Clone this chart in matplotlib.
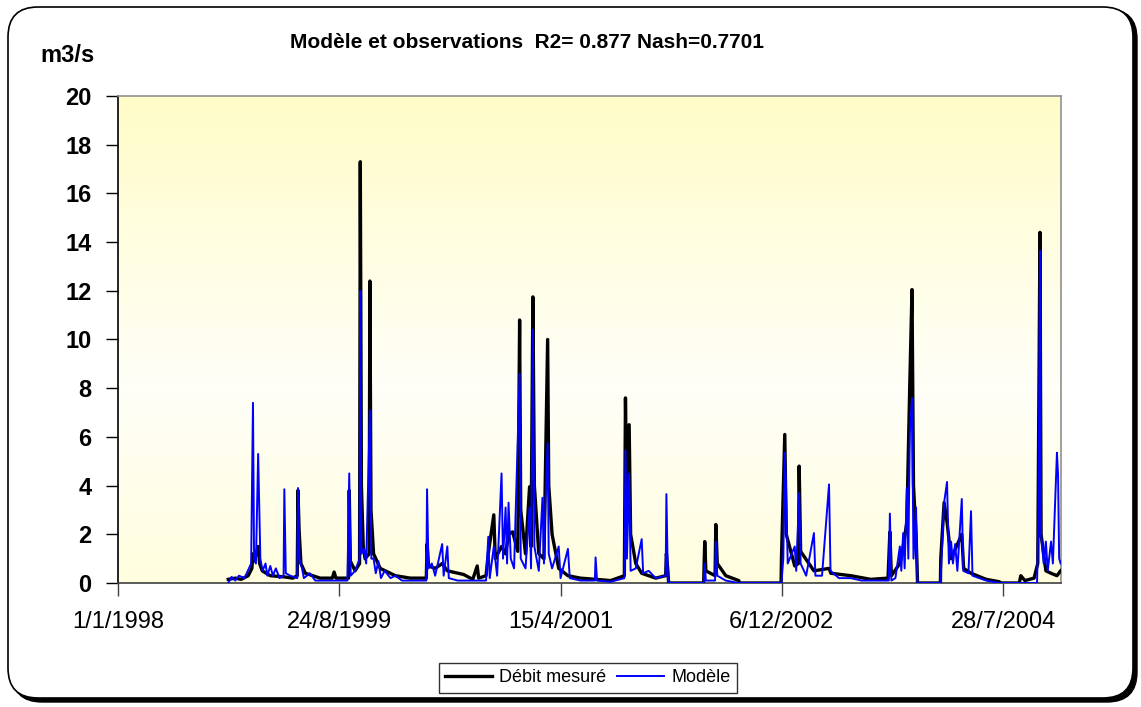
import numpy as np
import pandas as pd
import matplotlib.pyplot as plt
import matplotlib.dates as mdates
from matplotlib.patches import FancyBboxPatch
from matplotlib.transforms import IdentityTransform
from matplotlib.ticker import FuncFormatter, MultipleLocator

# ---------------- DATA ----------------
obs_dates = [
    "1998-10-27", "1998-11-15", "1998-12-01", "1998-12-20", "1998-12-30", "1999-01-02",
    "1999-01-05", "1999-01-16", "1999-01-20", "1999-01-27", "1999-02-18", "1999-03-28",
    "1999-04-20", "1999-05-02", "1999-05-04", "1999-05-07", "1999-05-12", "1999-05-24",
    "1999-07-03", "1999-08-05", "1999-08-10", "1999-08-15", "1999-09-18", "1999-09-20",
    "1999-09-23", "1999-10-06", "1999-10-18", "1999-10-20", "1999-10-23", "1999-10-28",
    "1999-11-02", "1999-11-13", "1999-11-15", "1999-11-18", "1999-11-25", "1999-12-13",
    "2000-01-23", "2000-03-04", "2000-04-16", "2000-04-18", "2000-04-22", "2000-05-10",
    "2000-05-29", "2000-06-12", "2000-07-26", "2000-08-20", "2000-09-01", "2000-09-05",
    "2000-09-25", "2000-10-01", "2000-10-16", "2000-10-20", "2000-11-06", "2000-11-17",
    "2000-11-25", "2000-12-06", "2000-12-20", "2000-12-25", "2000-12-28", "2001-01-10",
    "2001-01-21", "2001-01-25", "2001-01-30", "2001-02-03", "2001-02-15", "2001-03-01",
    "2001-03-11", "2001-03-14", "2001-03-23", "2001-04-10", "2001-05-05", "2001-06-08",
    "2001-07-19", "2001-08-29", "2001-10-05", "2001-10-08", "2001-10-12", "2001-10-18",
    "2001-10-22", "2001-11-05", "2001-11-21", "2001-12-29", "2002-01-25", "2002-01-27",
    "2002-01-31", "2002-02-02", "2002-05-08", "2002-05-11", "2002-05-14", "2002-06-08",
    "2002-06-10", "2002-06-14", "2002-07-07", "2002-08-11", "2002-08-14", "2002-12-04",
    "2002-12-05", "2002-12-14", "2002-12-18", "2003-01-10", "2003-01-20", "2003-01-22",
    "2003-01-26", "2003-03-03", "2003-04-13", "2003-04-18", "2003-06-11", "2003-08-04",
    "2003-09-20", "2003-09-25", "2003-09-29", "2003-10-22", "2003-10-31", "2003-11-10",
    "2003-11-18", "2003-11-24", "2003-11-28", "2003-12-05", "2003-12-09", "2004-02-09",
    "2004-02-10", "2004-02-19", "2004-02-27", "2004-03-09", "2004-04-07", "2004-04-12",
    "2004-05-02", "2004-06-12", "2004-07-18", "2004-07-20", "2004-09-10", "2004-09-14",
    "2004-09-25", "2004-10-20", "2004-10-30", "2004-11-05", "2004-11-08", "2004-11-21",
    "2004-12-05", "2004-12-21", "2004-12-31",
]
obs_values = [
    0.15, 0.2, 0.15, 0.3, 0.6, 1.2,
    0.9, 1.5, 0.8, 0.5, 0.3, 0.25,
    0.2, 0.3, 3.8, 2.2, 0.8, 0.4,
    0.2, 0.2, 0.45, 0.2, 0.2, 3.8,
    0.9, 0.5, 0.8, 17.3, 4.0, 1.5,
    1.0, 1.2, 12.4, 3.0, 1.2, 0.6,
    0.3, 0.2, 0.2, 1.6, 0.7, 0.6,
    0.8, 0.5, 0.35, 0.15, 0.7, 0.2,
    0.3, 1.2, 2.8, 1.0, 1.5, 1.2,
    2.0, 2.1, 1.3, 10.8, 3.0, 1.2,
    3.95, 1.5, 11.75, 4.0, 1.2, 1.0,
    10.0, 4.0, 2.0, 0.6, 0.3, 0.2,
    0.15, 0.1, 0.3, 7.6, 3.0, 6.5,
    2.0, 0.8, 0.4, 0.2, 0.3, 1.2,
    0.5, 0.0, 0.0, 1.7, 0.5, 0.3,
    2.4, 0.8, 0.3, 0.1, 0.0, 0.0,
    1.0, 6.1, 2.0, 0.7, 0.8, 4.8,
    1.3, 0.5, 0.6, 0.4, 0.3, 0.15,
    0.2, 2.1, 0.3, 0.8, 1.5, 2.5,
    8.2, 12.05, 4.0, 2.0, 0.0, 0.0,
    1.0, 3.3, 2.5, 1.0, 2.0, 0.6,
    0.4, 0.15, 0.05, 0.0, 0.0, 0.3,
    0.1, 0.2, 0.8, 14.4, 2.0, 0.5,
    0.4, 0.3, 0.5,
]

mod_dates = [
    "1998-10-27", "1998-11-05", "1998-11-15", "1998-11-25", "1998-12-10", "1998-12-28",
    "1999-01-02", "1999-01-05", "1999-01-10", "1999-01-16", "1999-01-22", "1999-01-28",
    "1999-02-05", "1999-02-10", "1999-02-18", "1999-02-25", "1999-03-05", "1999-03-15",
    "1999-03-26", "1999-03-28", "1999-04-01", "1999-04-13", "1999-05-02", "1999-05-04",
    "1999-05-08", "1999-05-15", "1999-05-20", "1999-06-05", "1999-06-20", "1999-07-10",
    "1999-08-10", "1999-09-15", "1999-09-20", "1999-09-24", "1999-10-06", "1999-10-18",
    "1999-10-20", "1999-10-23", "1999-10-30", "1999-11-05", "1999-11-15", "1999-11-19",
    "1999-11-25", "1999-12-01", "1999-12-08", "1999-12-15", "1999-12-25", "2000-01-10",
    "2000-01-23", "2000-02-10", "2000-03-04", "2000-04-16", "2000-04-18", "2000-04-22",
    "2000-05-01", "2000-05-10", "2000-05-29", "2000-06-02", "2000-06-12", "2000-06-16",
    "2000-07-10", "2000-08-15", "2000-09-25", "2000-10-01", "2000-10-05", "2000-10-16",
    "2000-10-25", "2000-11-06", "2000-11-10", "2000-11-17", "2000-11-21", "2000-11-25",
    "2000-12-01", "2000-12-10", "2000-12-25", "2000-12-28", "2001-01-10", "2001-01-21",
    "2001-01-25", "2001-01-30", "2001-02-03", "2001-02-15", "2001-02-25", "2001-03-01",
    "2001-03-05", "2001-03-11", "2001-03-14", "2001-03-23", "2001-04-10", "2001-04-15",
    "2001-05-05", "2001-05-10", "2001-06-08", "2001-07-17", "2001-07-19", "2001-07-23",
    "2001-08-29", "2001-10-05", "2001-10-08", "2001-10-12", "2001-10-18", "2001-10-22",
    "2001-11-05", "2001-11-21", "2001-11-25", "2001-12-10", "2001-12-29", "2002-01-25",
    "2002-01-27", "2002-01-31", "2002-02-02", "2002-05-08", "2002-05-11", "2002-05-14",
    "2002-06-08", "2002-06-10", "2002-06-14", "2002-07-07", "2002-08-11", "2002-12-05",
    "2002-12-10", "2002-12-14", "2002-12-17", "2002-12-22", "2003-01-10", "2003-01-14",
    "2003-01-22", "2003-01-26", "2003-02-10", "2003-03-03", "2003-03-07", "2003-03-25",
    "2003-04-13", "2003-04-17", "2003-05-10", "2003-06-11", "2003-07-10", "2003-08-04",
    "2003-09-22", "2003-09-25", "2003-09-29", "2003-10-10", "2003-10-22", "2003-10-26",
    "2003-10-31", "2003-11-04", "2003-11-10", "2003-11-14", "2003-11-18", "2003-11-24",
    "2003-11-28", "2003-12-05", "2003-12-09", "2004-02-09", "2004-02-19", "2004-02-27",
    "2004-03-03", "2004-03-09", "2004-03-14", "2004-03-20", "2004-03-26", "2004-04-07",
    "2004-04-11", "2004-04-25", "2004-05-02", "2004-05-06", "2004-06-12", "2004-07-18",
    "2004-10-28", "2004-11-01", "2004-11-05", "2004-11-08", "2004-11-15", "2004-11-21",
    "2004-11-26", "2004-12-05", "2004-12-10", "2004-12-21", "2004-12-24", "2004-12-27",
    "2004-12-31",
]
mod_values = [
    0.0, 0.25, 0.1, 0.3, 0.2, 0.8,
    7.4, 1.0, 0.8, 5.3, 1.0, 0.5,
    0.8, 0.3, 0.7, 0.3, 0.6, 0.2,
    0.3, 3.85, 0.4, 0.3, 0.2, 3.9,
    1.0, 0.6, 0.2, 0.4, 0.1, 0.1,
    0.1, 0.1, 4.5, 0.3, 0.5, 1.0,
    12.0, 1.2, 1.4, 0.8, 7.1, 1.0,
    1.0, 0.4, 0.9, 0.2, 0.5, 0.2,
    0.3, 0.1, 0.1, 0.1, 3.85, 0.6,
    0.8, 0.3, 1.6, 0.3, 1.5, 0.2,
    0.1, 0.1, 0.1, 1.9, 0.2, 1.5,
    0.3, 4.5, 1.0, 3.1, 0.8, 3.3,
    1.0, 0.6, 8.6, 1.0, 0.6, 3.1,
    0.6, 10.4, 1.5, 0.5, 3.5, 0.8,
    3.3, 5.75, 1.2, 0.6, 1.5, 0.2,
    1.4, 0.2, 0.1, 0.1, 1.05, 0.1,
    0.05, 0.2, 5.45, 1.0, 4.5, 0.5,
    0.6, 1.8, 0.4, 0.5, 0.2, 0.3,
    3.65, 0.2, 0.0, 0.0, 0.8, 0.1,
    0.1, 1.7, 0.3, 0.1, 0.0, 0.0,
    1.0, 5.35, 4.2, 0.8, 1.5, 0.5,
    3.7, 0.8, 0.3, 2.05, 0.3, 0.3,
    4.05, 0.5, 0.2, 0.2, 0.1, 0.1,
    0.1, 2.85, 0.1, 0.2, 1.5, 0.5,
    2.05, 0.6, 3.9, 1.0, 6.1, 7.6,
    1.0, 3.1, 0.0, 0.0, 3.3, 4.15,
    0.8, 1.7, 0.8, 1.6, 0.5, 3.45,
    0.5, 0.4, 2.95, 0.3, 0.1, 0.0,
    0.0, 2.8, 13.65, 2.0, 0.8, 1.7,
    0.5, 1.7, 0.8, 5.35, 4.45, 1.0,
    0.8,
]

tick_dates = ["1998-01-01", "1999-08-24", "2001-04-15", "2002-12-06", "2004-07-28"]
title_text = "Modèle et observations  R2= 0.877 Nash=0.7701"

obs = pd.Series(obs_values, index=pd.to_datetime(obs_dates))
mod = pd.Series(mod_values, index=pd.to_datetime(mod_dates))

# ---------------- FIGURE ----------------
plt.rcParams["font.family"] = ["Liberation Sans", "DejaVu Sans"]
fig = plt.figure(figsize=(11.41, 7.07), dpi=100)

# rounded chart frame with shadow (pixel coordinates)
shadow = FancyBboxPatch((12, 5), 1125, 693, boxstyle="round,pad=0,rounding_size=30",
                        transform=IdentityTransform(), facecolor="black", edgecolor="black",
                        zorder=0)
frame = FancyBboxPatch((8, 9), 1125, 691, boxstyle="round,pad=0,rounding_size=30",
                       transform=IdentityTransform(), facecolor="white", edgecolor="black",
                       linewidth=1.2, zorder=1)
fig.patches.extend([shadow, frame])

ax = fig.add_axes([118 / 1141, 1 - 583 / 707, (1061 - 118) / 1141, (583 - 96) / 707])
ax.set_zorder(2)
ax.patch.set_alpha(0)

# yellow gradient background
grad = np.interp(np.linspace(0, 1, 256), [0, 0.6, 1], [0, 1, 0.45])
top = np.array([255, 252, 200]) / 255
mid = np.array([255, 255, 248]) / 255
img = top[None, :] * (1 - grad[:, None]) + mid[None, :] * grad[:, None]
ax.imshow(img[:, None, :], extent=[0, 1, 0, 1], transform=ax.transAxes,
          aspect="auto", zorder=0)

ax.plot(obs.index, obs.values, color="black", linewidth=2.4, label="Débit mesuré", zorder=3)
ax.plot(mod.index, mod.values, color="#0000FF", linewidth=1.4, label="Modèle", zorder=4)

ax.set_xlim(pd.Timestamp("1998-01-01"), pd.Timestamp("2005-01-01"))
ax.set_ylim(0, 20)
ax.yaxis.set_major_locator(MultipleLocator(2))
ax.set_xticks(mdates.date2num(pd.to_datetime(tick_dates)))
ax.xaxis.set_major_formatter(FuncFormatter(
    lambda v, p: "{}/{}/{}".format(mdates.num2date(v).day, mdates.num2date(v).month,
                                   mdates.num2date(v).year)))

ax.tick_params(axis="y", direction="out", length=9, width=1, pad=10,
               labelsize=17)
ax.tick_params(axis="x", direction="out", length=9, width=1, pad=11,
               labelsize=17, color="#404040")
for lbl in ax.get_yticklabels():
    lbl.set_fontweight("bold")

ax.spines["left"].set_color("black")
ax.spines["bottom"].set_color("#404040")
ax.spines["top"].set_color("#909090")
ax.spines["right"].set_color("#909090")
for s in ax.spines.values():
    s.set_linewidth(1.2)

fig.text(527 / 1141, 1 - 42 / 707, title_text, ha="center", va="center",
         fontsize=15, fontweight="bold",
         family=["Liberation Sans Narrow", "Liberation Sans", "DejaVu Sans"])
fig.text(68 / 1141, 1 - 56 / 707, "m3/s", ha="center", va="center",
         fontsize=17, fontweight="bold")

leg = fig.legend(loc="center", bbox_to_anchor=(588 / 1141, 1 - 678 / 707), ncol=2,
                 fontsize=13, frameon=True, fancybox=False, edgecolor="black",
                 handlelength=2.6, columnspacing=0.6, handletextpad=0.4,
                 borderpad=0.35)
leg.get_frame().set_linewidth(1.0)

fig.savefig("out.png", dpi=100)
